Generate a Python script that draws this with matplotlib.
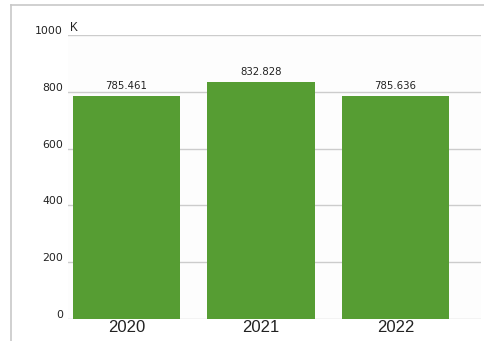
import matplotlib
matplotlib.use("Agg")
import matplotlib.pyplot as plt
from matplotlib.lines import Line2D
import matplotlib.transforms as mtransforms

plt.rcParams['font.family'] = ['Liberation Sans', 'DejaVu Sans']

years = ["2020", "2021", "2022"]
values = [785.461, 832.828, 785.636]
yticks = [0, 200, 400, 600, 800, 1000]

fig = plt.figure(figsize=(4.85, 3.41), dpi=100)
ax = fig.add_axes([68 / 485, 22 / 341, 413 / 485, 284 / 341])

x = list(range(len(years)))
ax.bar(x, values, width=0.796, color='#569d33', zorder=3)

for xi, v in zip(x, values):
    ax.text(xi, v + 18, f"{v:.3f}", ha='center', va='bottom', fontsize=7.3,
            family='DejaVu Sans', color='#222222', zorder=4)

ax.set_xlim(-0.435, 2.636)
ax.set_ylim(0, 1000)
ax.set_yticks(yticks)
ax.set_yticklabels([str(t) for t in yticks], fontsize=7.8, family='DejaVu Sans', color='#222222')
ax.set_xticks(x)
ax.set_xticklabels(years, fontsize=12, color='#222222')
ax.tick_params(axis='both', length=0)
ax.tick_params(axis='y', pad=3.5)
ax.tick_params(axis='x', pad=1)
shift = mtransforms.ScaledTranslation(0, 5 / 100, fig.dpi_scale_trans)
for lbl in ax.get_yticklabels():
    lbl.set_transform(lbl.get_transform() + shift)
ax.grid(axis='y', color='#cccccc', linewidth=1, zorder=0)
for s in ax.spines.values():
    s.set_visible(False)
ax.set_facecolor('#fdfdfd')

ax.text(0.005, 1.005, "K", transform=ax.transAxes, ha='left', va='bottom', fontsize=8.5, color='#222222')

# outer frame (top and left edges)
fig.add_artist(Line2D([11 / 485, 1.01], [1 - 5 / 341, 1 - 5 / 341], color='#c8c8c8', linewidth=1.2))
fig.add_artist(Line2D([11 / 485, 11 / 485], [-0.01, 1 - 5 / 341], color='#c8c8c8', linewidth=1.2))

fig.savefig("out.png", dpi=100)
